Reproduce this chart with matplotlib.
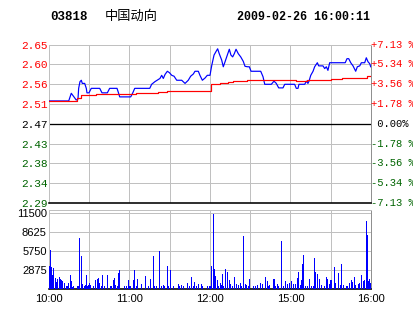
import matplotlib
matplotlib.use("Agg")
import matplotlib.pyplot as plt
from matplotlib.transforms import blended_transform_factory

code = "03818"
name = "中国动向"
stamp = "2009-02-26 16:00:11"
prev_close = 2.47
max_pct = 7.13

price_labels = ["2.29", "2.34", "2.38", "2.43", "2.47", "2.51", "2.56", "2.60", "2.65"]
pct_labels = ["-7.13 %", "-5.34 %", "-3.56 %", "-1.78 %", " 0.00%", "+1.78 %", "+3.56 %", "+5.34 %", "+7.13 %"]
vol_ticks = [2875, 5750, 8625, 11500]
vol_labels = ["2875", "5750", "8625", "11500"]
time_ticks = [0, 30, 60, 90, 120, 150, 180, 210, 240]
time_labels = ["10:00", "", "11:00", "", "12:00", "", "15:00", "", "16:00"]

# minutes since 10:00 (lunch break removed), last price
price_t = [0, 14.7, 16.6, 18.6, 20.3, 21.6, 22.1, 23.1, 24.1, 24.8,
           26.6, 27.8, 28.3, 29.8, 31.5, 37.8, 39.5, 43.5, 45.2, 50.7,
           51.9, 52.7, 60.9, 62.6, 63.9, 75.1, 76.5, 79.0, 82.7, 84.0,
           85.2, 86.5, 88.2, 89.7, 91.5, 93.2, 95.2, 98.9, 101.4, 103.8,
           105.6, 107.6, 108.8, 111.3, 112.5, 114.3, 116.3, 118.0, 120.0, 121.3,
           123.0, 124.5, 125.7, 126.9, 128.7, 129.9, 131.2, 132.9, 134.4, 135.6,
           136.9, 138.1, 139.4, 141.1, 142.9, 144.8, 146.1, 148.1, 149.3, 150.6,
           157.8, 159.5, 160.8, 165.7, 167.7, 169.4, 171.2, 174.4, 175.7, 183.1,
           184.3, 185.6, 186.3, 190.6, 191.8, 193.0, 193.8, 195.1, 196.8, 198.0,
           200.0, 201.0, 204.2, 205.5, 206.7, 207.9, 209.2, 220.8, 222.1, 223.4,
           224.9, 226.6, 228.6, 229.8, 231.6, 232.8, 235.3, 236.5, 237.8, 239.0, 239.8]
price = [2.521, 2.521, 2.538, 2.530, 2.523, 2.525, 2.549, 2.564, 2.567, 2.560,
         2.560, 2.549, 2.539, 2.539, 2.549, 2.549, 2.539, 2.539, 2.549, 2.549,
         2.538, 2.530, 2.530, 2.540, 2.549, 2.549, 2.558, 2.564, 2.571, 2.578,
         2.571, 2.580, 2.587, 2.584, 2.578, 2.576, 2.567, 2.567, 2.560, 2.567,
         2.576, 2.581, 2.587, 2.587, 2.578, 2.567, 2.572, 2.578, 2.578, 2.600,
         2.623, 2.631, 2.637, 2.626, 2.612, 2.597, 2.608, 2.623, 2.636, 2.623,
         2.619, 2.626, 2.636, 2.626, 2.619, 2.609, 2.598, 2.597, 2.597, 2.587,
         2.587, 2.575, 2.558, 2.558, 2.565, 2.560, 2.550, 2.550, 2.558, 2.558,
         2.549, 2.549, 2.558, 2.558, 2.565, 2.560, 2.565, 2.578, 2.587, 2.597,
         2.606, 2.599, 2.599, 2.593, 2.597, 2.589, 2.606, 2.606, 2.615, 2.615,
         2.606, 2.599, 2.587, 2.597, 2.599, 2.606, 2.606, 2.617, 2.608, 2.604, 2.597]

# average price, holds from each time on
avg_t = [0, 21, 23.6, 35, 65, 81.5, 87.7, 121, 127.5, 133.6, 137.4, 147.4,
         184.3, 192.5, 210.4, 218.4, 237.3, 240]
avg = [2.521, 2.528, 2.534, 2.536, 2.539, 2.540, 2.544, 2.558, 2.560, 2.564,
       2.566, 2.567, 2.565, 2.567, 2.570, 2.572, 2.577, 2.577]

vol_t = [0.2, 1.0, 2.0, 2.7, 3.7, 4.5, 5.7, 6.5, 7.5, 8.7, 9.4, 10.2, 11.2, 11.9,
         12.7, 13.9, 14.9, 15.7, 16.4, 17.6, 18.6, 21.1, 21.9, 22.4, 23.1, 24.1,
         25.1, 26.1, 27.1, 27.8, 28.6, 29.3, 30.1, 31.3, 33.5, 34.3, 35.0, 36.0,
         36.8, 37.5, 38.8, 39.7, 41.0, 43.5, 45.5, 46.7, 47.9, 48.7, 49.7, 50.9,
         51.7, 52.4, 56.6, 57.4, 59.1, 59.9, 61.1, 62.8, 63.6, 65.4, 66.0, 69.1,
         72.1, 74.0, 76.0, 77.8, 79.0, 80.3, 82.2, 84.0, 85.2, 85.9, 88.2, 88.9,
         90.2, 90.9, 92.7, 96.4, 97.6, 98.9, 100.6, 103.1, 104.6, 106.4, 107.6,
         108.3, 110.1, 111.3, 113.8, 114.6, 118.0, 120.0, 121.3, 122.5, 123.2,
         124.0, 125.4, 126.5, 127.5, 128.2, 129.2, 130.4, 131.9, 132.9, 134.2,
         135.4, 136.4, 137.9, 139.9, 141.1, 142.4, 143.3, 144.8, 146.1, 147.4,
         148.6, 149.8, 152.3, 154.0, 155.5, 157.3, 158.0, 159.0, 161.5, 162.7,
         163.5, 164.7, 167.7, 168.7, 170.2, 170.9, 173.4, 174.6, 176.6, 177.6,
         178.9, 179.6, 180.9, 182.6, 183.6, 185.4, 186.1, 187.6, 188.3, 189.1,
         189.6, 191.3, 192.5, 194.0, 195.8, 197.0, 197.7, 199.0, 200.0, 201.5,
         203.3, 205.0, 206.5, 207.4, 208.9, 210.0, 210.7, 212.6, 213.9, 215.6,
         216.9, 218.2, 219.3, 221.4, 222.3, 224.3, 225.1, 226.4, 227.5, 228.8,
         230.5, 231.3, 233.1, 234.3, 235.5, 236.8, 237.3, 238.1, 238.8, 239.8]
vol = [3480, 5860, 3230, 2090, 3080, 1590, 990, 1490, 1740, 1390, 1240, 1090, 750, 900,
       350, 400, 900, 2090, 1090, 250, 350, 350, 350, 7600, 350, 4970,
       750, 350, 500, 1990, 350, 500, 900, 500, 400, 900, 1240, 1490,
       1590, 900, 350, 2090, 350, 2090, 350, 350, 1240, 1590, 600, 400,
       2390, 2880, 350, 350, 1240, 350, 350, 1240, 2880, 350, 1450, 750,
       1840, 400, 1390, 4970, 400, 400, 5720, 400, 600, 400, 3480, 400,
       2880, 750, 400, 750, 400, 600, 400, 900, 400, 1740, 400,
       990, 400, 750, 750, 400, 400, 400, 3370, 11300, 2980,
       1890, 1240, 400, 900, 600, 2240, 400, 2980, 2580, 1240,
       750, 400, 1740, 750, 600, 900, 400, 7950, 750, 500,
       400, 1490, 400, 400, 500, 900, 400, 750, 1740, 1090,
       400, 600, 1390, 400, 750, 400, 7200, 400, 1090, 750,
       400, 900, 1090, 750, 750, 1590, 2580, 600, 1240, 3730,
       5070, 400, 400, 1390, 400, 400, 4620, 2480, 2240, 1390,
       600, 400, 1740, 1390, 750, 1240, 1240, 3230, 900, 2390,
       600, 3730, 600, 400, 400, 900, 1240, 990, 1740, 600,
       750, 900, 2090, 1090, 1240, 10180, 8200, 1090, 1490, 900]

RED = "#ff0000"
GREEN = "#006400"
GRID = "#c0c0c0"
PX = 0.72  # one pixel in points

W, H = 414, 314
fig = plt.figure(figsize=(W / 100, H / 100), dpi=100)
ax = fig.add_axes([49 / W, 1 - 203 / H, 322 / W, 158.3 / H])
axv = fig.add_axes([49 / W, 1 - 288.5 / H, 322 / W, 79 / H])

step = prev_close * max_pct / 100 / 4
levels = [prev_close + k * step for k in range(-4, 5)]

# price panel
ax.plot(price_t, price, color="#0000ff", lw=PX * 1.2, zorder=3)
ax.plot(avg_t, avg, color=RED, lw=PX * 1.2, drawstyle="steps-post", zorder=4)
ax.axhline(prev_close, color="black", lw=PX * 1.3, zorder=2)
ax.set_xlim(0, 240)
ax.set_ylim(levels[0], levels[-1])
ax.set_xticks(time_ticks)
ax.set_xticklabels([])
ax.set_yticks(levels)
ax.set_yticklabels(price_labels, family="Liberation Mono", fontsize=8)
for i, lab in enumerate(ax.get_yticklabels()):
    lab.set_color(GREEN if i < 4 else ("black" if i == 4 else RED))
ax.tick_params(length=0, pad=1.2)
ax.grid(True, color=GRID, lw=PX)
ax.set_axisbelow(True)
for s in ["left", "top"]:
    ax.spines[s].set_color(GRID)
    ax.spines[s].set_linewidth(PX)
ax.spines["right"].set_color("#909090")
ax.spines["right"].set_linewidth(PX)
ax.spines["bottom"].set_color("black")
ax.spines["bottom"].set_linewidth(PX * 1.6)

tr = blended_transform_factory(ax.transAxes, ax.transData)
for i, (lv, lab) in enumerate(zip(levels, pct_labels)):
    col = GREEN if i < 4 else ("black" if i == 4 else RED)
    ax.text(1.0, lv, lab, transform=tr, ha="left", va="center",
            family="Liberation Mono", fontsize=7.6, color=col)

# volume panel
axv.bar(vol_t, vol, width=0.75, color="#0000ff", lw=0, zorder=3)
axv.set_xlim(0, 240)
axv.set_ylim(0, 12000)
axv.set_yticks(vol_ticks)
axv.set_yticklabels(vol_labels, family="Liberation Sans", fontsize=8)
axv.set_xticks(time_ticks)
axv.set_xticklabels(time_labels, family="Liberation Sans", fontsize=8)
axv.tick_params(axis="y", length=0, pad=1.6)
axv.tick_params(axis="x", length=0, pad=4)
axv.grid(True, color=GRID, lw=PX)
axv.set_axisbelow(True)
for s in ["left", "top"]:
    axv.spines[s].set_color(GRID)
    axv.spines[s].set_linewidth(PX)
axv.spines["right"].set_color("#909090")
axv.spines["right"].set_linewidth(PX)
axv.spines["bottom"].set_color("black")
axv.spines["bottom"].set_linewidth(PX * 1.6)

# header
fig.text(50 / W, 1 - 16.5 / H, code, family="Liberation Mono", weight="bold",
         fontsize=9, va="center", ha="left")
fig.text(105 / W, 1 - 16 / H, name, family=["Noto Sans CJK SC", "DejaVu Sans"],
         fontsize=9.5, va="center", ha="left")
fig.text(237 / W, 1 - 16.5 / H, stamp, family="Liberation Mono", weight="bold",
         fontsize=8.4, va="center", ha="left")

fig.savefig("out.png", dpi=100)
